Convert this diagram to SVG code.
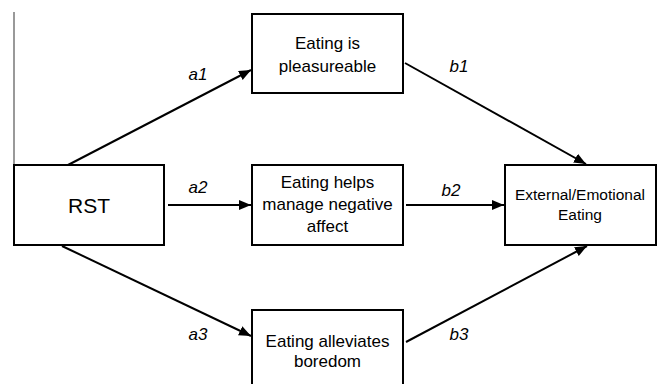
<svg xmlns="http://www.w3.org/2000/svg" width="657" height="384" viewBox="0 0 657 384">
<style>
.box{fill:#fff;stroke:#000;stroke-width:2}
.t{font-family:"Liberation Sans",Arial,sans-serif;font-size:17px;fill:#000;text-anchor:middle}
.lbl{font-family:"Liberation Sans",Arial,sans-serif;font-size:17px;font-style:italic;fill:#000;text-anchor:middle}
.c{stroke:#000;stroke-width:2;fill:none;marker-end:url(#ah)}
</style>
<defs>
<marker id="ah" markerUnits="userSpaceOnUse" markerWidth="14" markerHeight="12" refX="12" refY="5" orient="auto">
<path d="M0,0 L12,5 L0,10 Z" fill="#000"/>
</marker>
</defs>
<rect width="657" height="384" fill="#fff"/>
<line x1="14" y1="12" x2="14" y2="165" stroke="#777" stroke-width="1.5"/>
<g id="connectors">
<path class="c" d="M68,165 L251,70"/>
<path class="c" d="M405,63 L586,164"/>
<path class="c" d="M168,205 L251,205"/>
<path class="c" d="M406,205 L504,205"/>
<path class="c" d="M62,246 L251,336"/>
<path class="c" d="M406,342 L587,246"/>
<text class="lbl" x="198" y="80">a1</text>
<text class="lbl" x="459" y="72">b1</text>
<text class="lbl" x="198" y="193">a2</text>
<text class="lbl" x="451" y="196">b2</text>
<text class="lbl" x="198" y="340">a3</text>
<text class="lbl" x="459" y="340">b3</text>
</g>
<g id="rst">
<rect class="box" x="14" y="165" width="150" height="80"/>
<text class="t" x="89" y="213" style="font-size:21px">RST</text>
</g>
<g id="pleasure">
<rect class="box" x="252" y="14" width="151" height="79"/>
<text class="t" x="327.5" y="49">Eating is</text>
<text class="t" x="327.5" y="72">pleasureable</text>
</g>
<g id="negaffect">
<rect class="box" x="252" y="165" width="151" height="80"/>
<text class="t" x="327.5" y="188">Eating helps</text>
<text class="t" x="327.5" y="210">manage negative</text>
<text class="t" x="327.5" y="232">affect</text>
</g>
<g id="boredom">
<rect class="box" x="252" y="310" width="151" height="80"/>
<text class="t" x="327.5" y="347">Eating alleviates</text>
<text class="t" x="327.5" y="367">boredom</text>
</g>
<g id="outcome">
<rect class="box" x="505" y="165" width="151" height="80"/>
<text class="t" x="580" y="200" style="font-size:15.5px">External/Emotional</text>
<text class="t" x="580" y="220" style="font-size:15.5px">Eating</text>
</g>
</svg>
